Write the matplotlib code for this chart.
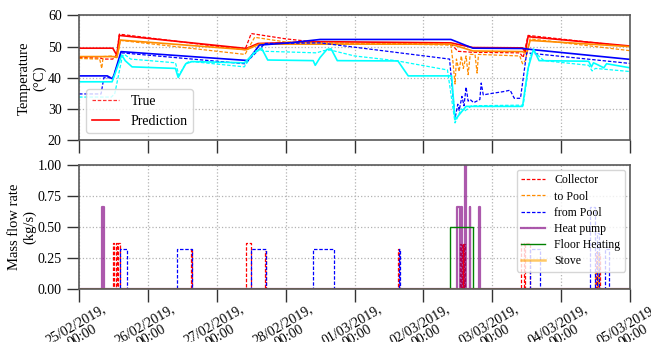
import numpy as np
import matplotlib
matplotlib.use("Agg")
import matplotlib.pyplot as plt
import matplotlib.dates as mdates

plt.rcParams['font.family'] = ['Liberation Serif', 'DejaVu Serif']
plt.rcParams['font.size'] = 10
plt.rcParams['lines.dashed_pattern'] = [2.8, 1.4]

# time axis: days after 25/02/2019 00:00
start = mdates.date2num(np.datetime64('2019-02-25T00:00'))
ticks_days = np.arange(0, 9)

# ---- temperatures (deg C) ----
red_pred_t = [0, 0.49, 0.55, 0.585, 2.43, 2.6, 3.5, 5.40, 5.72, 6.44, 6.48, 6.52, 8.0]
red_pred_v = [49.5, 49.5, 47.2, 53.6, 49.4, 51.0, 51.6, 51.2, 49.7, 49.6, 48.2, 53.2, 50.2]
red_true_t = [0, 0.32, 0.35, 0.49, 0.55, 0.585, 2.41, 2.5, 3.0, 3.5, 5.3, 5.42, 5.5, 5.7, 6.40, 6.45, 6.52, 8.0]
red_true_v = [46.5, 46.3, 46.0, 46.0, 47.5, 54.0, 49.0, 54.2, 52.5, 51.3, 50.8, 50.5, 48.5, 48.2, 48.0, 46.5, 53.6, 50.0]

orange_pred_t = [0, 0.49, 0.55, 0.6, 2.43, 2.62, 5.40, 5.72, 6.44, 6.50, 6.55, 8.0]
orange_pred_v = [46.8, 46.8, 46.5, 52.1, 49.0, 50.8, 50.8, 48.6, 48.4, 47.8, 52.0, 50.0]
orange_true_t = [0, 0.3, 0.33, 0.35, 0.49, 0.55, 0.6, 2.41, 2.55, 3.0, 5.4, 5.43, 5.46, 5.48, 5.52,
                 5.55, 5.58, 5.62, 5.65, 5.68, 5.75, 5.78, 5.80, 6.40, 6.44, 6.48, 6.55, 8.0]
orange_true_v = [46.2, 46.0, 43.0, 46.8, 47.0, 46.5, 52.0, 47.5, 53.0, 51.5, 50.5, 45.0, 38.0, 46.0, 42.0,
                 47.0, 43.0, 47.0, 41.0, 47.5, 47.5, 41.5, 47.5, 47.0, 44.5, 45.5, 52.5, 48.7]

blue_pred_t = [0, 0.41, 0.49, 0.61, 2.41, 2.45, 2.62, 3.05, 3.5, 5.40, 5.72, 6.44, 6.6, 8.0]
blue_pred_v = [40.6, 40.6, 39.6, 48.4, 45.6, 45.5, 50.5, 51.2, 52.3, 52.3, 49.5, 49.4, 49.0, 45.9]
blue_true_t = [0, 0.32, 0.36, 0.49, 0.62, 2.41, 2.7, 3.5, 5.38, 5.46, 5.5, 5.52, 5.56, 5.59, 5.62, 5.65,
               5.68, 5.73, 5.82, 5.84, 5.87, 6.0, 6.15, 6.26, 6.32, 6.41, 6.50, 8.0]
blue_true_v = [34.8, 34.8, 40.0, 40.0, 48.0, 44.5, 51.0, 51.2, 46.0, 27.0, 31.5, 29.5, 34.0, 31.0, 37.0, 32.5,
               33.0, 32.0, 33.0, 38.3, 34.5, 35.0, 35.5, 36.0, 33.4, 33.4, 48.0, 44.6]

cyan_pred_t = [0, 0.48, 0.62, 0.67, 0.77, 1.40, 1.44, 1.55, 1.64, 2.40, 2.55, 2.65, 2.74, 3.40, 3.43, 3.5,
               3.60, 3.66, 3.75, 4.63, 4.78, 5.41, 5.46, 5.62, 6.44, 6.52, 6.60, 6.68, 7.40, 7.44, 7.47,
               7.52, 7.62, 7.66, 8.0]
cyan_pred_v = [38.7, 38.7, 47.3, 45.5, 43.5, 43.0, 40.1, 44.5, 45.2, 44.8, 48.0, 49.5, 45.7, 45.5, 44.0, 46.5,
               49.1, 49.3, 45.5, 45.4, 40.6, 40.6, 26.5, 30.8, 30.8, 43.0, 49.2, 45.5, 45.3, 43.5, 44.8,
               44.3, 43.2, 44.5, 43.2]
cyan_true_t = [0, 0.47, 0.52, 0.63, 0.66, 0.75, 1.4, 1.45, 1.55, 1.6, 2.40, 2.55, 2.62, 2.7, 3.45, 3.55,
               3.65, 4.0, 4.6, 5.35, 5.46, 5.55, 5.6, 5.7, 6.45, 6.55, 6.60, 6.75, 7.40, 7.45, 7.50, 8.0]
cyan_true_v = [33.8, 33.8, 35.0, 47.0, 47.5, 46.0, 44.8, 40.8, 44.5, 45.3, 43.5, 48.5, 49.0, 48.5, 48.0, 48.7,
               48.9, 47.0, 45.5, 42.5, 25.5, 30.0, 29.3, 31.0, 31.2, 47.0, 48.5, 45.5, 44.0, 42.2, 43.0, 42.0]

# ---- mass flow rates (kg/s): pump on / off times (days) and flow level ----
collector_on = [0.49, 0.53, 0.565, 1.632, 2.42, 2.705, 4.628, 5.53, 5.56, 5.58, 5.595, 6.42, 6.48, 7.50, 7.54]
collector_off = [0.515, 0.555, 0.595, 1.64, 2.49, 2.715, 4.64, 5.55, 5.575, 5.59, 5.61, 6.46, 6.545, 7.52, 7.56]
collector_lvl = [0.37, 0.37, 0.37, 0.32, 0.37, 0.31, 0.32, 0.36, 0.36, 0.36, 0.36, 0.37, 0.37, 0.30, 0.28]

to_pool_on = [7.49, 7.54]
to_pool_off = [7.52, 7.555]
to_pool_lvl = [0.14, 0.30]

from_pool_on = [0.595, 1.42, 2.49, 3.40, 4.64, 6.545, 7.415, 7.52, 7.634]
from_pool_off = [0.70, 1.635, 2.71, 3.70, 4.66, 6.69, 7.485, 7.55, 7.70]
from_pool_lvl = [0.32, 0.32, 0.32, 0.32, 0.32, 0.32, 0.66, 0.45, 0.32]

heat_pump_on = [0.34, 5.49, 5.55, 5.605, 5.67, 5.815]
heat_pump_off = [0.365, 5.525, 5.56, 5.62, 5.68, 5.825]
heat_pump_lvl = [0.66, 0.66, 0.66, 1.0, 0.66, 0.66]

floor_on = [5.39]
floor_off = [5.715]
floor_lvl = [0.50]

stove_on = []
stove_off = []
stove_lvl = []

temp_series = [
    ('red', red_true_t, red_true_v, red_pred_t, red_pred_v),
    ('darkorange', orange_true_t, orange_true_v, orange_pred_t, orange_pred_v),
    ('blue', blue_true_t, blue_true_v, blue_pred_t, blue_pred_v),
    ('cyan', cyan_true_t, cyan_true_v, cyan_pred_t, cyan_pred_v),
]


def t(days):
    return start + np.asarray(days, dtype=float)


def pulses(on, off, lvl):
    # step signal that is zero except between on/off times
    xs, ys = [0.0], [0.0]
    for a, b, v in zip(on, off, lvl):
        xs += [a, a, b, b]
        ys += [0.0, v, v, 0.0]
    xs.append(8.0)
    ys.append(0.0)
    return t(xs), ys


fig = plt.figure(figsize=(6.51, 3.42), dpi=100)
ax1 = fig.add_axes([0.1214, 0.5906, 0.8463, 0.3641])
ax2 = fig.add_axes([0.1214, 0.155, 0.8463, 0.3625], sharex=ax1)

for color, tt, tv, pt, pv in temp_series:
    ax1.plot(t(tt), tv, '--', color=color, lw=0.9)
    ax1.plot(t(pt), pv, '-', color=color, lw=1.2)

ax1.plot([], [], '--', color='red', lw=0.9, alpha=0.8, label='True')
ax1.plot([], [], '-', color='red', lw=1.2, label='Prediction')
ax1.set_ylim(20, 60)
ax1.set_yticks([20, 30, 40, 50, 60])
ax1.set_ylabel('Temperature\n(°C)', labelpad=1, fontsize=10.5)
ax1.legend(loc='lower left', framealpha=0.8, edgecolor='0.8', fontsize=10)

flows = [
    ('Collector', collector_on, collector_off, collector_lvl, '--', 'red', 0.9, 1.0),
    ('to Pool', to_pool_on, to_pool_off, to_pool_lvl, '--', 'darkorange', 0.9, 1.0),
    ('from Pool', from_pool_on, from_pool_off, from_pool_lvl, '--', 'blue', 0.9, 1.0),
    ('Heat pump', heat_pump_on, heat_pump_off, heat_pump_lvl, '-', 'purple', 1.6, 0.65),
    ('Floor Heating', floor_on, floor_off, floor_lvl, '-', 'green', 1.0, 1.0),
    ('Stove', stove_on, stove_off, stove_lvl, '-', 'orange', 1.8, 0.6),
]
for name, on, off, lvl, ls, color, lw, alpha in flows:
    x, y = pulses(on, off, lvl)
    ax2.plot(x, y, ls, color=color, lw=lw, alpha=alpha, label=name)

ax2.set_ylim(0, 1.0)
ax2.set_yticks([0, 0.25, 0.5, 0.75, 1.0])
ax2.set_yticklabels(['0.00', '0.25', '0.50', '0.75', '1.00'])
ax2.set_ylabel('Mass flow rate\n(kg/s)', labelpad=1, fontsize=10.5)
ax2.legend(loc='upper right', framealpha=0.8, edgecolor='0.8', fontsize=8.5,
           labelspacing=0.35, borderaxespad=0.4)

ax2.set_xlim(t(0), t(8))
ax2.set_xticks(t(ticks_days))
ax2.xaxis.set_major_formatter(mdates.DateFormatter('%d/%m/%Y,\n%H:%M'))
plt.setp(ax1.get_xticklabels(), visible=False)
for lbl in ax2.get_xticklabels():
    lbl.set_rotation(30)
    lbl.set_ha('center')
    lbl.set_linespacing(1.0)

for ax in (ax1, ax2):
    ax.grid(True, linestyle=':', color='0.7', lw=0.9)
    ax.tick_params(direction='out', length=9, width=1.0, color='0.2')
    for sp in ax.spines.values():
        sp.set_color('0.35')
        sp.set_linewidth(1.2)
ax2.tick_params(axis='x', pad=0.5)

fig.savefig('out.png', dpi=100)
